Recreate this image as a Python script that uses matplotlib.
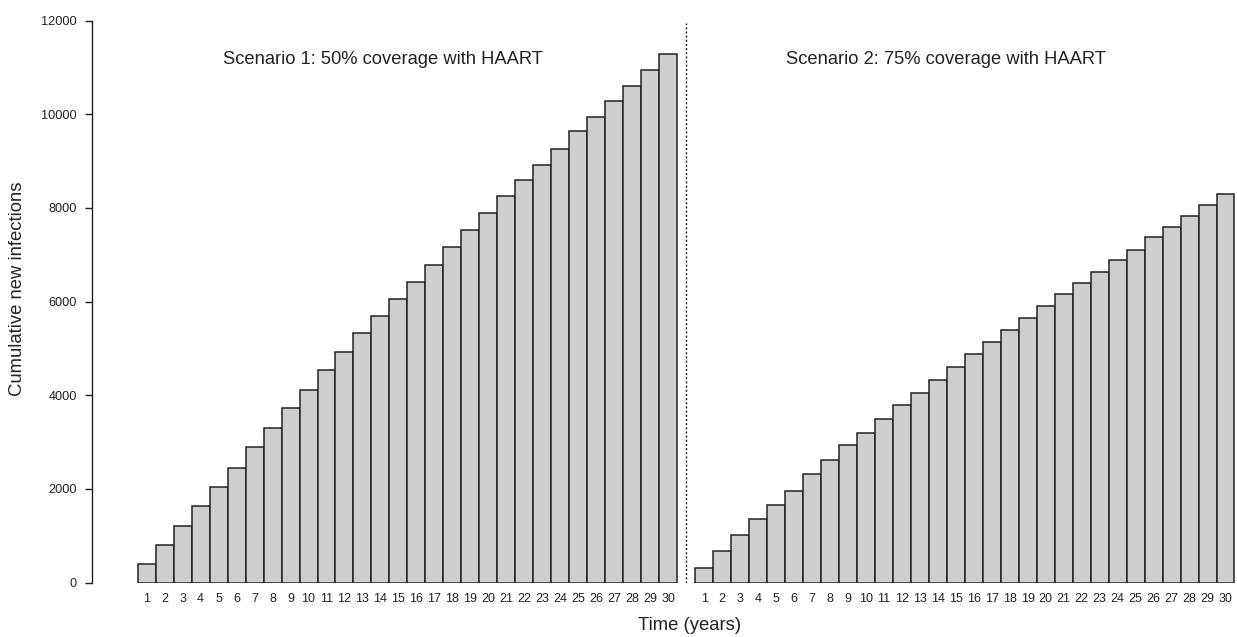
import matplotlib
matplotlib.use("Agg")
import matplotlib.pyplot as plt
import numpy as np

plt.rcParams['font.family'] = ['Liberation Sans', 'DejaVu Sans']

years = list(range(1, 31))
scenario1 = [400, 800, 1200, 1630, 2030, 2440, 2900, 3300, 3720, 4120,
             4530, 4920, 5320, 5680, 6060, 6420, 6790, 7160, 7530, 7880,
             8250, 8590, 8920, 9250, 9630, 9950, 10280, 10610, 10940, 11280]
scenario2 = [320, 680, 1010, 1350, 1650, 1960, 2310, 2610, 2930, 3190,
             3500, 3780, 4050, 4330, 4610, 4880, 5130, 5400, 5650, 5900,
             6160, 6400, 6630, 6890, 7110, 7380, 7590, 7820, 8060, 8300]
yticks = [0, 2000, 4000, 6000, 8000, 10000, 12000]
title1 = "Scenario 1: 50% coverage with HAART"
title2 = "Scenario 2: 75% coverage with HAART"

W, H = 1237, 637
fig = plt.figure(figsize=(W / 100, H / 100), dpi=100)
left_px, right_px, bottom_px, top_px = 92.3, 1237, 582.5, 20.5
ax = fig.add_axes([left_px / W, (H - bottom_px) / H,
                   (right_px - left_px) / W, (bottom_px - top_px) / H])

n = len(years)
x1 = np.arange(n) + 0.5
x2 = np.arange(n) + n + 1.5
fill = '#cdcecf'
edge = '#222222'
ax.bar(x1, scenario1, width=1.0, color=fill, edgecolor=edge, linewidth=1.1)
ax.bar(x2, scenario2, width=1.0, color=fill, edgecolor=edge, linewidth=1.1)

ax.axvline(n + 0.5, ymin=0, ymax=0.995, color='#222222', linestyle=(0, (1.5, 1.5)), linewidth=1.0)

ax.set_xlim(-2.525, 61.14)
ax.set_ylim(0, 12000)

ax.set_xticks(list(x1) + list(x2))
ax.set_xticklabels([str(y) for y in years] * 2, fontsize=9, color='#222222')
ax.tick_params(axis='x', length=0, pad=7.5)

ax.set_yticks(yticks)
ax.set_yticklabels([str(v) for v in yticks], fontsize=9.2, color='#222222')
ax.tick_params(axis='y', length=5, width=1, direction='out', pad=6, color='#222222')

for s in ['top', 'right', 'bottom']:
    ax.spines[s].set_visible(False)
ax.spines['left'].set_bounds(0, 12000)
ax.spines['left'].set_color('#222222')
ax.spines['left'].set_linewidth(1)

fig.text(383 / W, 1 - 60 / H, title1, ha='center', va='center', fontsize=13.2, color='#222222')
fig.text(946 / W, 1 - 60 / H, title2, ha='center', va='center', fontsize=13.2, color='#222222')
fig.text(690 / W, 1 - 625 / H, "Time (years)", ha='center', va='center', fontsize=13.3, color='#222222')
fig.text(18 / W, 1 - 289 / H, "Cumulative new infections", ha='center', va='center',
         rotation=90, fontsize=13.3, color='#222222')

fig.savefig("out.png", dpi=100, facecolor='white')
